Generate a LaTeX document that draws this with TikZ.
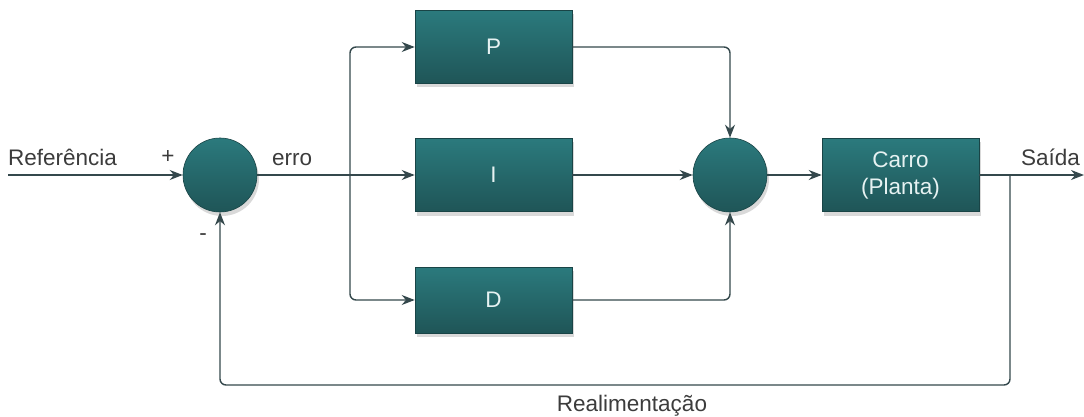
\documentclass[tikz,border=0pt]{standalone}
\usepackage{fontspec}
\setmainfont{Liberation Sans}
\usetikzlibrary{arrows.meta,shadows,calc}
\definecolor{tealtop}{HTML}{2B7A7D}
\definecolor{tealbot}{HTML}{1F5557}
\definecolor{wire}{HTML}{34484C}
\definecolor{labelc}{HTML}{3C3C3C}
\definecolor{boxtext}{HTML}{E6F2F2}
\begin{document}
\begin{tikzpicture}[x=1pt,y=-1pt,
  font=\fontsize{22.5}{27}\selectfont,
  block/.style={draw=tealbot!80!black, line width=0.6pt, top color=tealtop, bottom color=tealbot,
     minimum width=157pt, minimum height=73pt, text=boxtext, align=center,
     drop shadow={shadow xshift=2pt, shadow yshift=-4pt, opacity=0.3}},
  summer/.style={circle, draw=tealbot!80!black, line width=0.6pt, top color=tealtop, bottom color=tealbot,
     minimum size=74pt, inner sep=0pt,
     drop shadow={shadow xshift=2pt, shadow yshift=-4pt, opacity=0.3}},
  wireline/.style={draw=wire, line width=1.4pt, rounded corners=6pt},
  flow/.style={wireline, -{Stealth[length=13pt,width=10pt]}},
  lbl/.style={text=labelc, inner sep=0pt}
]
\useasboundingbox (0,0) rectangle (1084,417);

% blocks
\node[summer] (s1) at (220,175) {};
\node[block] (P) at (493.5,47) {P};
\node[block] (I) at (493.5,175) {I};
\node[block, minimum height=66pt] (D) at (493.5,300) {D};
\node[summer] (s2) at (730,175) {};
\node[block] (C) at (900.5,175) {Carro\\(Planta)};

% coordinates for the free ends and branch points
\coordinate (in) at (8,175);
\coordinate (out) at (1084,175);
\coordinate (br) at (350,175);
\coordinate (tap) at (1010,175);

% input and error path
\draw[flow] (in) -- (s1.west);
\draw[wireline] (s1.east) -- (br);
\draw[flow] (br) -- (I.west);
\draw[flow] (br) |- (P.west);
\draw[flow] (br) |- (D.west);

% controller outputs into the second summing junction
\draw[flow] (P.east) -| (s2.north);
\draw[flow] (I.east) -- (s2.west);
\draw[flow] (D.east) -| (s2.south);
\draw[flow] (s2.east) -- (C.west);

% plant output and feedback
\draw[flow] (C.east) -- (out);
\draw[flow] (tap) -- (1010,385) -- (220,385) -- (s1.south);

% labels
\node[lbl, anchor=south west] (ref) at (8,166) {Referência};
\node[lbl] (plus) at (168,157) {+};
\node[lbl] (minus) at (203,237) {-};
\node[lbl, anchor=south west] (err) at (272,166) {erro};
\node[lbl, anchor=south west] (sai) at (1021,166) {Saída};
\node[lbl] (fb) at (632,406) {Realimentação};
\end{tikzpicture}
\end{document}
